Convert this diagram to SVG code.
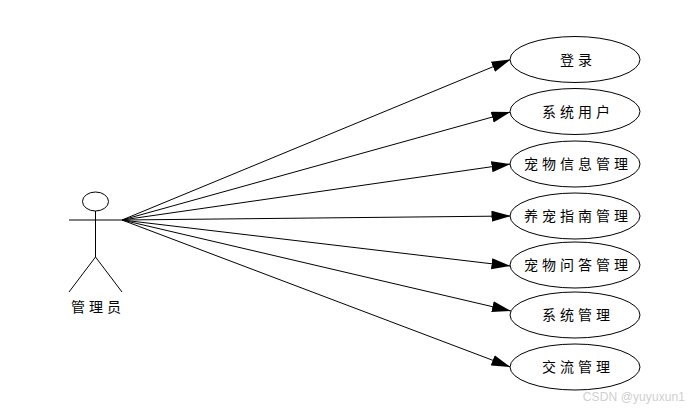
<svg xmlns="http://www.w3.org/2000/svg" width="688" height="411" viewBox="0 0 688 411">
<style>
.s{fill:none;stroke:#000;stroke-width:1}
.e{fill:#fff;stroke:#000;stroke-width:1}
text{font-family:"Noto Sans CJK SC","Liberation Sans",sans-serif;font-size:14px;fill:#000;text-anchor:middle;letter-spacing:4px}
.w{font-family:"Liberation Sans",sans-serif;font-size:12px;fill:#cfcfcf;letter-spacing:0.1px}
</style>
<defs><marker id="a" markerUnits="userSpaceOnUse" markerWidth="20" markerHeight="12" refX="19" refY="5.500" orient="auto"><path d="M0 0L19 5.500L0 11z" fill="#000"/></marker></defs>
<rect width="688" height="411" fill="#fff"/>
<g id="connectors">
<line class="s" x1="122" y1="220" x2="510.500" y2="59.500" marker-end="url(#a)"/>
<line class="s" x1="122" y1="220" x2="510.500" y2="112" marker-end="url(#a)"/>
<line class="s" x1="122" y1="220" x2="510.500" y2="164" marker-end="url(#a)"/>
<line class="s" x1="122" y1="220" x2="510.500" y2="216" marker-end="url(#a)"/>
<line class="s" x1="122" y1="220" x2="510.500" y2="266" marker-end="url(#a)"/>
<line class="s" x1="122" y1="220" x2="511" y2="311" marker-end="url(#a)"/>
<line class="s" x1="122" y1="220" x2="510.500" y2="367" marker-end="url(#a)"/>
</g>
<g id="actor">
<ellipse class="s" cx="95.500" cy="201.500" rx="13" ry="9.500"/>
<path class="s" d="M95.500 211V257M95.500 257L69 292M95.500 257L122 292"/>
<line x1="69" y1="220" x2="122" y2="220" stroke="#000" stroke-width="1"/>
<text x="98" y="311.500">管理员</text>
</g>
<g id="n1"><ellipse class="e" cx="575" cy="59.500" rx="65" ry="23"/><text x="578" y="64.500">登录</text></g>
<g id="n2"><ellipse class="e" cx="575" cy="111.500" rx="65" ry="23"/><text x="578" y="116.500">系统用户</text></g>
<g id="n3"><ellipse class="e" cx="575" cy="164" rx="65" ry="23"/><text x="578" y="169">宠物信息管理</text></g>
<g id="n4"><ellipse class="e" cx="575" cy="216" rx="65" ry="23"/><text x="578" y="221">养宠指南管理</text></g>
<g id="n5"><ellipse class="e" cx="575" cy="265" rx="65" ry="23"/><text x="578" y="270">宠物问答管理</text></g>
<g id="n6"><ellipse class="e" cx="575" cy="315" rx="65" ry="23"/><text x="578" y="320">系统管理</text></g>
<g id="n7"><ellipse class="e" cx="575" cy="367" rx="65" ry="23"/><text x="578" y="372">交流管理</text></g>
<text class="w" x="634" y="401">CSDN @yuyuxun1</text>
</svg>
